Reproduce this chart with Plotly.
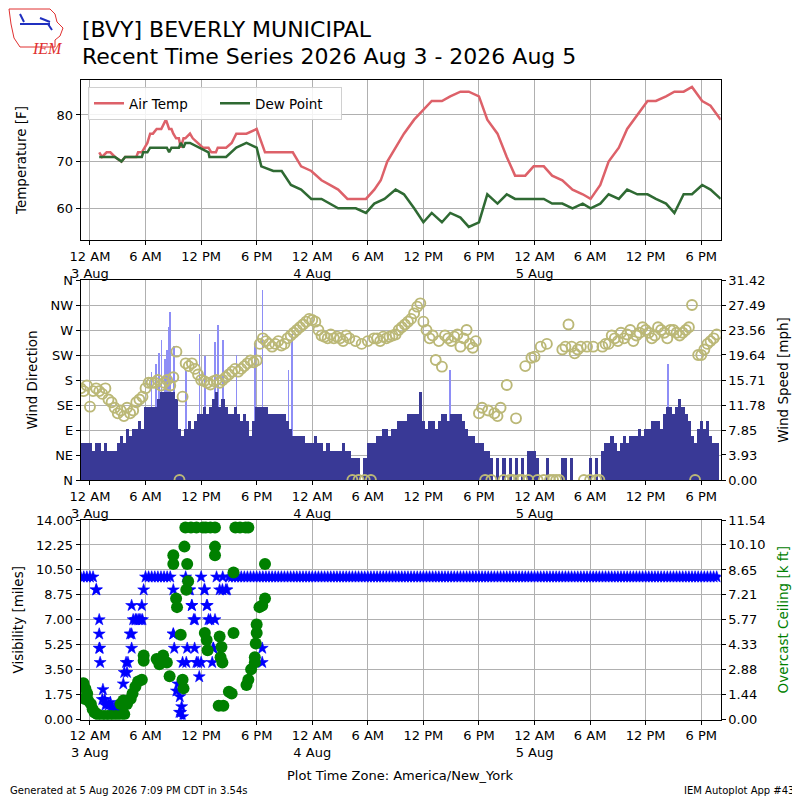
import pandas as pd
import plotly.graph_objects as go

BASE = pd.Timestamp("2026-08-03 00:00")
GRID_START = "2026-08-02 23:00"   # 20 minute report grid for wind / visibility

# ----------------------------------------------------------------------
# temperature (hours after 3 Aug 00:00)
# ----------------------------------------------------------------------
AIR_HOURS = [1.0, 1.3, 1.8, 2.2, 2.7, 3.4, 3.8, 5.0, 5.2, 5.6, 5.9, 6.2, 6.5, 6.8, 7.2,
             7.7, 8.2, 8.55, 8.8, 9.0, 9.3, 9.6, 9.8, 10.1, 10.3, 10.8, 11.1, 11.7, 12.2, 12.8,
             13.1, 13.6, 13.8, 14.7, 15.3, 15.8, 16.9, 18.0, 18.9, 21.9, 22.8, 23.9, 25.0, 25.9, 26.8,
             27.8, 29.8, 30.7, 31.4, 32.1, 33.0, 33.9, 35.0, 36.0, 36.9, 38.0, 38.9, 40.0, 40.9, 42.0,
             42.9, 44.0, 45.0, 45.9, 47.0, 47.9, 49.0, 49.9, 51.0, 52.1, 53.2, 54.05, 55.1, 56.0, 57.1,
             58.0, 59.1, 60.2, 61.1, 62.2, 63.1, 64.1, 65.0, 66.1, 67.0, 68.1]
AIR_TEMP_F = [72, 71, 72, 72, 71, 70, 71, 71, 72, 72, 73, 74, 76, 76, 77,
              77, 79, 77, 77, 76, 75, 75, 73, 75, 75, 76, 75, 74, 73, 73,
              72, 72, 73, 73, 74, 76, 76, 77, 72, 72, 69, 68, 66, 65, 64,
              62, 62, 64, 66, 70, 73, 76, 79, 81, 83, 83, 84, 85, 85, 84,
              79, 76, 71, 67, 67, 69, 69, 67, 66, 64, 63, 62, 65, 70, 73,
              77, 80, 83, 83, 84, 85, 85, 86, 83, 82, 79]

DEW_HOURS = [1.0, 2.7, 3.4, 3.8, 5.6, 5.75, 6.2, 6.5, 8.3, 8.55, 8.8, 9.6, 9.8, 10.1, 10.3,
             10.8, 12.8, 12.9, 14.7, 15.3, 15.8, 16.9, 18.0, 18.5, 19.8, 20.7, 21.7, 22.8, 23.9, 25.0,
             26.8, 28.7, 29.8, 30.7, 31.8, 33.0, 33.9, 35.0, 36.0, 36.9, 38.0, 38.9, 40.0, 40.9, 42.0,
             42.9, 44.0, 45.0, 45.9, 47.0, 48.0, 49.0, 49.9, 51.0, 52.1, 53.2, 54.05, 55.1, 56.0, 57.1,
             58.0, 59.1, 60.2, 61.1, 62.2, 63.1, 64.1, 65.0, 66.1, 67.0, 68.1]
DEW_POINT_F = [71, 71, 70, 71, 71, 72, 72, 73, 73, 72, 73, 73, 74, 73, 74,
               74, 72, 71, 71, 72, 73, 74, 73, 69, 68, 68, 65, 64, 62, 62,
               60, 60, 59, 61, 62, 64, 63, 60, 57, 59, 57, 59, 58, 56, 57,
               63, 61, 63, 62, 62, 62, 62, 61, 61, 60, 61, 60, 61, 63, 62,
               64, 63, 63, 62, 61, 59, 63, 63, 65, 64, 62]

# ----------------------------------------------------------------------
# wind, one row per hour (three 20 minute reports), 2 Aug 23h .. 5 Aug 19h
# ----------------------------------------------------------------------
WIND_SPEED_KT = [
    5, 5, 5,    5, 4, 5,    5, 4, 5,    4, 4, 4,    5, 6, 5,    7, 6, 7,
    7, 8, 7,    10, 10, 10, 10, 11, 12, 12, 12, 12, 12, 11, 7,  6, 7, 8,
    7, 8, 9,    9, 10, 9,   10, 11, 12, 10, 11, 10, 9, 9, 10,   9, 8, 9,
    8, 6, 8,    10, 10, 10, 10, 9, 9,   9, 9, 9,    9, 8, 7,    6, 6, 6,
    6, 5, 5,
    5, 6, 5,    5, 4, 5,    4, 4, 4,    4, 5, 4,    4, 3, 3,    3, 0, 3,
    5, 5, 5,    6, 6, 7,    7, 6, 7,    7, 8, 8,    8, 9, 9,    9, 9, 12,
    8, 7, 8,    8, 7, 8,    9, 9, 8,    9, 9, 9,    9, 8, 7,    6, 6, 5,
    5, 5, 4,    4, 3, 0,    3, 0, 3,    0, 3, 0,    3, 0, 3,    0, 4, 4,
    4, 3, 0,    0, 3, 0,    0, 0, 0,    3, 3, 0,    3, 0, 0,    0, 0, 0,
    3, 0, 3,    0, 4, 5,    5, 6, 5,    4, 5, 6,    5, 6, 6,    6, 7, 6,
    7, 7, 8,    8, 8, 7,    9, 10, 10,  9, 10, 11,  10, 9, 8,   6, 5, 7,
    8, 7, 8,    6, 5, 5,
]
WIND_DIR_DEG = [
    165, 160, 170, 132, 160, 165, 160, 155, 165, 145, 140, 130, 120, 125, 115,
    130, 120, 125, 140, 145, 150, 165, 175, 175, 175, 180, 170, 175, 180, 170,
    185, 231, 0,   150, 210, 205, 210, 200, 190, 180, 178, 175, 172, 178, 180,
    175, 180, 185, 190, 195, 200, 195, 200, 205, 210, 215, 212, 215, 245, 255,
    250, 245, 240, 245, 250, 242, 245, 255, 260, 265, 270, 275, 280, 285, 290,
    288, 285, 270, 260, 258, 255, 262, 255, 258, 255, 250, 260, 255, 0,   250,
    0,   245, 0,   250, 0,   255, 255, 250, 258, 255, 258, 260, 262, 270, 275,
    280, 285, 290, 300, 312, 318, 285, 270, 255, 260, 216, 250, 204, 260, 255,
    250, 258, 262, 240, 255, 270, 245, 238, 250, 120, 130, 0,   125, 0,   120,
    115, 130, 0,   171, 0,   0,   111, 0,   0,   205, 0,   220, 222, 0,   240,
    0,   245, 0,   0,   0,   0,   235, 240, 280, 240, 228, 235, 240, 0,   240,
    0,   240, 0,   0,   240, 245, 245, 260, 255, 250, 265, 255, 262, 270, 250,
    260, 265, 275, 270, 265, 255, 260, 275, 270, 265, 255, 270, 270, 265, 260,
    265, 270, 275, 315, 0,   225, 225, 235, 245, 250, 255, 262,
]
GUST_HOURS = [6.6, 7.1, 7.4, 7.7, 8.1, 8.3, 8.5, 8.6, 9.0, 10.3, 11.8, 12.4, 13.5, 13.8,
              14.3, 15.8, 17.8, 18.6, 21.4, 21.8, 38.8, 62.4]
GUST_MPH = [17.0, 18.3, 20.0, 22.0, 19.0, 20.4, 24.1, 26.4, 21.0, 17.3, 23.0, 19.5, 21.7, 24.3,
            22.0, 19.6, 21.5, 29.8, 17.3, 23.0, 17.3, 18.3]

# ----------------------------------------------------------------------
# visibility / ceiling
# ----------------------------------------------------------------------
VIS_GRID_MI = [
    10, 10, 10,  10, 10, 9.1,  5, 1.4, 1.0,  1.0, 0.8, 0.8,  0.8, 1.0, 1.0,
    3.3, 6, 7,   7, 7, 7,      10, 10, 10,   10, 10, 10,     10, 10, 10,
    6, 2, 0.5,   4, 10, 9.1,   8, 7, 4,      10, 9.1, 8,     7, 5, 10,
    9.1, 10, 9.1,
    10, 10, 10, 10, 10, 10, 10, 10, 10, 10, 10, 10, 10, 10, 10,
    10, 10, 10, 10, 10, 10, 10, 10, 10, 10, 10, 10, 10, 10, 10,
    10, 10, 10, 10, 10, 10, 10, 10, 10, 10, 10, 10, 10, 10, 10,
    10, 10, 10, 10, 10, 10, 10, 10, 10, 10, 10, 10, 10, 10, 10,
    10, 10, 10, 10, 10, 10, 10, 10, 10, 10, 10, 10, 10, 10, 10,
    10, 10, 10, 10, 10, 10, 10, 10, 10, 10, 10, 10, 10, 10, 10,
    10, 10, 10, 10, 10, 10, 10, 10, 10, 10, 10, 10, 10, 10, 10,
    10, 10, 10, 10, 10, 10, 10, 10, 10, 10, 10, 10, 10, 10, 10,
    10, 10, 10, 10, 10, 10, 10, 10, 10, 10, 10, 10, 10, 10, 10,
    10, 10, 10, 10, 10, 10, 10, 10, 10, 10, 10, 10, 10, 10, 10,
    10, 10, 10, 10, 10, 10, 10, 10, 10,
]
VIS_EXTRA_HOURS = [0.7, 1.0, 1.0, 1.05, 1.1, 1.4, 1.6, 2.2, 2.6, 3.0, 3.4, 3.6, 3.7, 3.9, 4.1,
                   4.5, 4.5, 4.5, 4.9, 5.2, 5.5, 5.6, 5.8, 9.0, 9.0, 9.1, 9.5, 9.7, 9.8, 9.9,
                   10.0, 10.4, 10.5, 10.8, 11.0, 11.2, 11.3, 11.5, 11.8, 12.0, 12.4, 12.6, 12.8, 13.2,
                   13.3, 13.5, 14.3, 14.8, 18.6, 18.6]
VIS_EXTRA_MI = [9.1, 7.0, 6.0, 5.0, 4.0, 2.1, 1.4, 1.2, 0.7, 0.7, 0.9, 2.5, 3.3, 4.0, 4.0,
                8.0, 6.0, 5.0, 7.0, 7.0, 7.0, 8.0, 9.1, 9.1, 6.0, 5.0, 2.5, 1.6, 0.5, 0.9,
                0.2, 4.0, 5.0, 9.1, 8.0, 7.0, 5.0, 4.0, 3.0, 4.0, 9.1, 8.0, 7.0, 4.0,
                5.0, 7.0, 9.1, 9.1, 5.0, 4.0]

CEIL_HOURS = [-0.7, -0.5, -0.3, -0.6, -0.2, 0.1, 0.3, 0.5, 0.8, 1.1, 1.5, 1.9, 2.3, 2.8, 3.3,
              3.7, 3.3, 3.6, 4.0, 4.4, 4.6, 4.9, 5.2, 5.6, 5.8, 5.8, 7.2, 7.5, 7.9, 8.3,
              8.6, 9.0, 9.0, 9.3, 9.4, 9.8, 10.0, 10.1, 10.2, 10.3, 10.5, 10.6, 10.4, 10.9, 11.5,
              12.2, 12.5, 13.0, 13.5, 12.4, 12.6, 12.7, 13.5, 13.5, 14.0, 14.2, 14.1, 14.3, 13.9, 14.4,
              15.0, 15.3, 15.5, 15.5, 15.7, 16.2, 16.8, 17.1, 16.9, 17.1, 17.4, 17.8, 17.8, 17.9, 18.0,
              18.0, 18.3, 18.6, 18.9, 18.9]
CEIL_KFT = [2.1, 1.8, 1.5, 1.2, 1.1, 0.9, 0.6, 0.4, 0.3, 0.2, 0.2, 0.2, 0.2, 0.2, 0.2,
            0.3, 0.9, 1.1, 0.9, 1.2, 1.5, 1.9, 2.2, 2.3, 3.7, 3.4, 3.5, 3.2, 3.7, 3.3,
            2.5, 9.5, 9.0, 7.0, 6.5, 4.9, 2.3, 1.8, 10.0, 11.1, 9.0, 8.0, 7.5, 11.1, 11.1,
            11.1, 11.1, 11.1, 11.1, 5.0, 4.6, 4.0, 10.0, 9.5, 4.8, 4.2, 3.6, 3.3, 0.8, 0.8,
            1.6, 1.5, 8.5, 5.0, 11.1, 11.1, 11.1, 11.1, 2.0, 2.3, 2.9, 3.3, 3.6, 4.4, 5.0,
            5.5, 6.5, 6.6, 7.0, 9.0]

# ----------------------------------------------------------------------
# tick labels
# ----------------------------------------------------------------------
TICK_HOURS = [0, 6, 12, 18, 24, 30, 36, 42, 48, 54, 60, 66]
TICK_TEXT = ["12 AM<br>3 Aug", "6 AM", "12 PM", "6 PM", "12 AM<br>4 Aug", "6 AM", "12 PM",
             "6 PM", "12 AM<br>5 Aug", "6 AM", "12 PM", "6 PM"]
DIR_LABELS = ["N", "NE", "E", "SE", "S", "SW", "W", "NW", "N"]
SPEED_LABELS = ["0.00", "3.93", "7.85", "11.78", "15.71", "19.64", "23.56", "27.49", "31.42"]
VIS_LABELS = ["0.00", "1.75", "3.50", "5.25", "7.00", "8.75", "10.50", "12.25", "14.00"]
CEIL_LABELS = ["0.00", "1.44", "2.88", "4.33", "5.77", "7.21", "8.65", "10.10", "11.54"]

FONT = "DejaVu Sans"
GRIDC = "#b0b0b0"
PAGE_PAD = 8   # the html body adds an 8px margin round the figure


def fx(px):
    # page pixel -> paper fraction
    return (px - PAGE_PAD) / 800


def fy(py):
    return 1 - (py - PAGE_PAD) / 800


def at(hours):
    return BASE + pd.to_timedelta(pd.Series(hours, dtype=float), unit="h")


grid_times = pd.date_range(GRID_START, periods=len(WIND_SPEED_KT), freq="20min")
speed_mph = [k * 1.15078 for k in WIND_SPEED_KT]
vis_times = list(pd.date_range(GRID_START, periods=len(VIS_GRID_MI), freq="20min")) + list(at(VIS_EXTRA_HOURS))
vis_vals = VIS_GRID_MI + VIS_EXTRA_MI

fig = go.Figure()

# panel 1: temperatures
fig.add_trace(go.Scatter(x=at(AIR_HOURS), y=AIR_TEMP_F, mode="lines", name="Air Temp",
                         line=dict(color="#DD6169", width=2.5), xaxis="x", yaxis="y"))
fig.add_trace(go.Scatter(x=at(DEW_HOURS), y=DEW_POINT_F, mode="lines", name="Dew Point",
                         line=dict(color="#2F6A33", width=2.5), xaxis="x", yaxis="y"))

# panel 2: gusts + speed (base axis), direction on top
fig.add_trace(go.Bar(x=at(GUST_HOURS), y=GUST_MPH, width=5 * 60 * 1000, marker_color="#8E8EF6",
                     marker_line_width=0, showlegend=False, xaxis="x2", yaxis="y2"))
fig.add_trace(go.Bar(x=grid_times, y=speed_mph, width=20 * 60 * 1000, marker_color="#393996",
                     marker_line_width=0, showlegend=False, xaxis="x2", yaxis="y2"))
fig.add_trace(go.Scatter(x=grid_times, y=WIND_DIR_DEG, mode="markers", showlegend=False,
                         marker=dict(symbol="circle-open", size=10, color="#BBB877",
                                     line=dict(width=1.9)),
                         xaxis="x2", yaxis="y3"))

# panel 3: visibility + ceiling
fig.add_trace(go.Scatter(x=vis_times, y=vis_vals, mode="markers", showlegend=False,
                         marker=dict(symbol="star", size=9, color="blue",
                                     line=dict(width=0.6, color="blue")),
                         xaxis="x3", yaxis="y4"))
fig.add_trace(go.Scatter(x=at(CEIL_HOURS), y=CEIL_KFT, mode="markers", showlegend=False,
                         marker=dict(symbol="circle", size=12, color="green", line=dict(width=0)),
                         xaxis="x3", yaxis="y5"))

xdom = [fx(80.7), fx(720.7)]
xrange_ = [BASE - pd.Timedelta(hours=1.0), BASE + pd.Timedelta(hours=68.1)]
tickvals = list(at(TICK_HOURS))

box = dict(showline=True, linecolor="black", linewidth=1, ticks="outside", ticklen=4,
           tickcolor="black", tickfont=dict(family=FONT, size=13, color="black"), zeroline=False,
           automargin=False)
xcommon = dict(box, type="date", range=xrange_, domain=xdom, tickvals=tickvals, ticktext=TICK_TEXT,
               mirror=True, showgrid=True, gridcolor=GRIDC, gridwidth=0.8)
title_font = dict(family=FONT, size=13.5, color="black")

fig.update_layout(
    width=800, height=800,
    margin=dict(l=0, r=0, t=0, b=0, autoexpand=False),
    paper_bgcolor="white", plot_bgcolor="white",
    font=dict(family=FONT, size=13, color="black"),
    barmode="overlay", bargap=0,
    xaxis=dict(xcommon, anchor="y"),
    xaxis2=dict(xcommon, anchor="y2"),
    xaxis3=dict(xcommon, anchor="y4"),
    yaxis=dict(box, domain=[fy(240), fy(80)], range=[53.2, 87.5], tickvals=[60, 70, 80], mirror=True,
               showgrid=True, gridcolor=GRIDC, gridwidth=0.8, anchor="x",
               title=dict(text="Temperature [F]", font=title_font, standoff=26)),
    yaxis2=dict(box, domain=[fy(480), fy(280)], range=[0, 31.42], side="right", anchor="x2",
                tickvals=[float(s) for s in SPEED_LABELS], ticktext=SPEED_LABELS, showgrid=False,
                title=dict(text="Wind Speed [mph]", font=title_font, standoff=14)),
    yaxis3=dict(box, range=[0, 360], overlaying="y2", side="left", anchor="x2",
                tickvals=[0, 45, 90, 135, 180, 225, 270, 315, 360], ticktext=DIR_LABELS,
                showgrid=True, gridcolor=GRIDC, gridwidth=0.8,
                title=dict(text="Wind Direction", font=title_font, standoff=9)),
    yaxis4=dict(box, domain=[fy(719.5), fy(520)], range=[0, 14], anchor="x3", mirror=True,
                tickvals=[float(s) for s in VIS_LABELS], ticktext=VIS_LABELS,
                showgrid=True, gridcolor=GRIDC, gridwidth=0.8,
                title=dict(text="Visibility [miles]", font=title_font, standoff=9)),
    yaxis5=dict(box, range=[0, 11.54], overlaying="y4", side="right", anchor="x3",
                tickvals=[float(s) for s in CEIL_LABELS], ticktext=CEIL_LABELS, showgrid=False,
                title=dict(text="Overcast Ceiling [k ft]", font=dict(family=FONT, size=13.5, color="green"),
                           standoff=14)),
    legend=dict(orientation="h", x=fx(88), y=fy(87), xanchor="left", yanchor="top",
                bgcolor="rgba(255,255,255,0.85)", bordercolor="#d0d0d0", borderwidth=1,
                font=dict(family=FONT, size=13.5), entrywidth=81),
)

ann = [
    dict(text="[BVY] BEVERLY MUNICIPAL", x=fx(80), y=fy(30), size=22, anchor="left"),
    dict(text="Recent Time Series 2026 Aug 3 - 2026 Aug 5", x=fx(80), y=fy(56), size=22, anchor="left"),
    dict(text="Plot Time Zone: America/New_York", x=fx(400), y=fy(775), size=13, anchor="center"),
    dict(text="Generated at 5 Aug 2026 7:09 PM CDT in 3.54s", x=fx(8), y=fy(790), size=10, anchor="left"),
    dict(text="IEM Autoplot App #43", x=fx(796), y=fy(790), size=10, anchor="right"),
]
for a in ann:
    fig.add_annotation(text=a["text"], x=a["x"], y=a["y"], xref="paper", yref="paper",
                       xanchor=a["anchor"], yanchor="middle", showarrow=False,
                       font=dict(family=FONT, size=a["size"], color="black"))

# IEM logo (rough), path in page pixels from the top-left corner
fig.add_shape(type="path", xref="paper", yref="paper", xsizemode="pixel", ysizemode="pixel",
              xanchor=fx(0), yanchor=fy(0),
              path="M 9,-9 L 50,-9 L 55,-14 L 57,-22 L 63,-28 L 60,-36 L 55,-40 L 55,-47 L 20,-47 L 14,-38 L 11,-24 Z",
              line=dict(color="#E03030", width=1))
fig.add_shape(type="path", xref="paper", yref="paper", xsizemode="pixel", ysizemode="pixel",
              xanchor=fx(0), yanchor=fy(0),
              path="M 20,-24 L 50,-24 M 40,-18 L 50,-22 M 20,-14 L 24,-22 M 48,-24 L 52,-30",
              line=dict(color="#2030C0", width=2))
fig.add_annotation(text="<i>IEM</i>", x=fx(30), y=fy(38), xref="paper", yref="paper",
                   showarrow=False, font=dict(family="Liberation Serif", size=16, color="#E03030"))

fig.write_html("out.html")
